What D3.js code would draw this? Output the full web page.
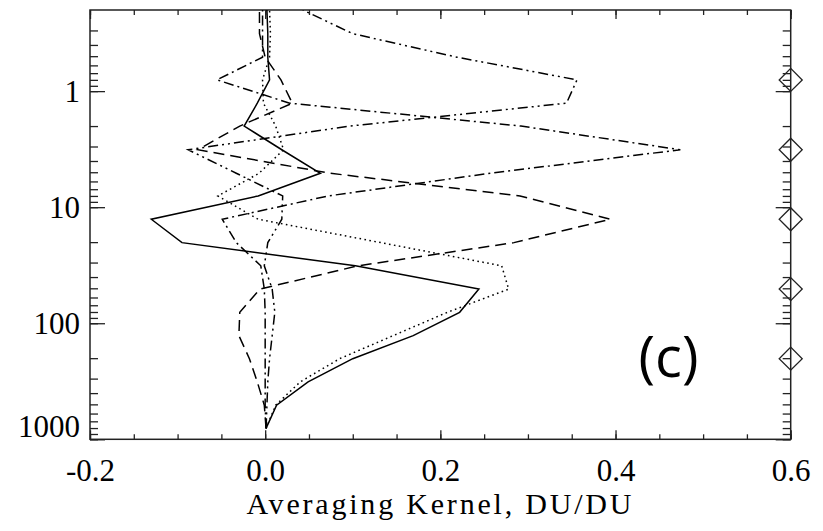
<!DOCTYPE html>
<html>
<head>
<meta charset="utf-8">
<script src="https://cdn.jsdelivr.net/npm/d3@7"></script>
<style>
  body { margin: 0; background: #fff; }
  #graph { width: 823px; height: 531px; }
</style>
</head>
<body>
<div id="graph"></div>
<script>
// Pressure levels (hPa), bottom of the profile to the top
const levels = [805, 508, 320, 202, 128, 80.5, 50.8, 32.0, 20.2, 12.7, 8.0, 5.1, 3.2, 2.0, 1.27, 0.80, 0.51, 0.32, 0.20]

// Averaging kernel rows, one value per level (DU/DU)
const kernelSolid = [0.001, 0.013, 0.049, 0.100, 0.169, 0.222, 0.244, 0.103, -0.095, -0.130, -0.008, 0.063, 0.019, -0.024, -0.009, 0.005, 0.003, 0.003, 0.002]
const kernelDotted = [0.001, 0.012, 0.040, 0.085, 0.146, 0.208, 0.278, 0.270, 0.132, -0.008, -0.054, -0.007, 0.021, 0.012, -0.002, -0.003, 0.005, 0.006, 0.005]
const kernelDashed = [0.001, -0.001, -0.009, -0.018, -0.030, -0.029, -0.006, 0.106, 0.284, 0.394, 0.291, 0.074, -0.077, -0.029, 0.031, 0.018, 0.000, -0.0065, -0.0065]
const kernelDashDot = [0.001, 0.000, 0.000, 0.000, 0.000, 0.000, -0.001, -0.005, -0.033, -0.049, 0.072, 0.257, 0.474, 0.292, 0.028, -0.055, -0.003, -0.003, -0.003]
const kernelDashDotDot = [0.001, 0.002, 0.003, 0.005, 0.008, 0.011, 0.008, -0.001, 0.003, 0.019, 0.020, -0.033, -0.088, 0.097, 0.344, 0.356, 0.219, 0.100, 0.043]

// Diamond markers on the right axis
const markerPressures = [0.80, 3.2, 12.7, 50.8, 202]

// Tick labels
const xTickValues = [-0.2, 0.0, 0.2, 0.4, 0.6]
const xTickLabels = ['-0.2', '0.0', '0.2', '0.4', '0.6']
const yTickValues = [1, 10, 100, 1000]
const yTickLabels = ['1', '10', '100', '1000']
const xTitle = 'Averaging Kernel, DU/DU'
const panelLabel = '(c)'

const total_width = 823
const total_height = 531
const margins = { top: 10, left: 90, right: 32.3, bottom: 91.7 }
const width = total_width - margins.left - margins.right
const height = total_height - margins.top - margins.bottom

const svg = d3.select('#graph').append('svg')
  .attr('width', total_width)
  .attr('height', total_height)
  .style('background-color', '#fff')

const g = svg.append('g')
  .attr('transform', `translate(${margins.left}, ${margins.top})`)

const x = d3.scaleLinear().domain([-0.2, 0.6]).range([0, width])
const y = d3.scaleLog().domain([0.2, 1000]).range([0, height])

g.append('clipPath').attr('id', 'plot-clip')
  .append('rect').attr('width', width).attr('height', height)

// Axes: major and minor ticks, all pointing into the plot
const xMinor = d3.range(-0.2, 0.6001, 0.05).map(v => +v.toFixed(2))
const yMinor = y.ticks().filter(v => v > 0.2)

function styleAxis(sel) {
  sel.select('.domain').remove()
  sel.selectAll('line').attr('stroke', '#222').attr('stroke-width', 1.3)
  sel.selectAll('text')
    .attr('fill', '#000')
    .style('font-family', '"Liberation Serif", "Times New Roman", serif')
    .style('font-size', '31px')
}

// bottom
g.append('g').attr('transform', `translate(0, ${height})`)
  .call(d3.axisBottom(x).tickValues(xMinor).tickSize(-5).tickFormat(''))
  .call(styleAxis)
g.append('g').attr('transform', `translate(0, ${height})`)
  .call(d3.axisBottom(x).tickValues(xTickValues).tickSizeInner(-9).tickSizeOuter(0).tickPadding(0)
    .tickFormat((d, i) => xTickLabels[i]))
  .call(styleAxis)
  .selectAll('text').attr('y', 41.7).attr('dy', 0)

// top
g.append('g')
  .call(d3.axisTop(x).tickValues(xMinor).tickSize(-5).tickFormat(''))
  .call(styleAxis)
g.append('g')
  .call(d3.axisTop(x).tickValues(xTickValues).tickSize(-9).tickFormat(''))
  .call(styleAxis)

// left
g.append('g')
  .call(d3.axisLeft(y).tickValues(yMinor).tickSize(-8).tickFormat(''))
  .call(styleAxis)
g.append('g')
  .call(d3.axisLeft(y).tickValues(yTickValues).tickSizeInner(-15).tickSizeOuter(0).tickPadding(0)
    .tickFormat((d, i) => yTickLabels[i]))
  .call(styleAxis)
  .selectAll('text')
  .attr('x', -10)
  .attr('dy', d => d === 1000 ? '-0.08em' : '0.33em')

// right
g.append('g').attr('transform', `translate(${width}, 0)`)
  .call(d3.axisRight(y).tickValues(yMinor).tickSize(-8).tickFormat(''))
  .call(styleAxis)
g.append('g').attr('transform', `translate(${width}, 0)`)
  .call(d3.axisRight(y).tickValues(yTickValues).tickSize(-15).tickFormat(''))
  .call(styleAxis)

// frame
g.append('rect')
  .attr('width', width)
  .attr('height', height)
  .attr('fill', 'none')
  .attr('stroke', '#222')
  .attr('stroke-width', 1.5)

// kernel lines
const series = [
  { values: kernelSolid, dash: null },
  { values: kernelDotted, dash: '1.6,3.4' },
  { values: kernelDashed, dash: '11,6' },
  { values: kernelDashDot, dash: '10,4,2,4' },
  { values: kernelDashDotDot, dash: '10,4,2,4,2,4' }
]

const lineGen = d3.line()
  .x(d => x(d.value))
  .y(d => y(d.p))

g.append('g').attr('clip-path', 'url(#plot-clip)')
  .selectAll('path')
  .data(series)
  .join('path')
  .attr('d', s => lineGen(levels.map((p, i) => ({ p: p, value: s.values[i] }))))
  .attr('fill', 'none')
  .attr('stroke', '#000')
  .attr('stroke-width', 1.5)
  .attr('stroke-linejoin', 'miter')
  .attr('stroke-dasharray', s => s.dash)

// diamonds on the right axis
g.selectAll('.marker')
  .data(markerPressures)
  .join('path')
  .attr('class', 'marker')
  .attr('d', d3.symbol(d3.symbolSquare, 265))
  .attr('transform', d => `translate(${x(0.6)}, ${y(d)}) rotate(45)`)
  .attr('fill', 'none')
  .attr('stroke', '#222')
  .attr('stroke-width', 1.3)

// panel label
g.append('text')
  .attr('x', x(0.4605))
  .attr('y', y(290))
  .attr('text-anchor', 'middle')
  .style('font-family', '"Open Sans", "Liberation Sans", sans-serif')
  .style('font-size', '56px')
  .attr('fill', '#000')
  .text(panelLabel)

// x title
svg.append('text')
  .attr('x', margins.left + width / 2)
  .attr('y', 514.3)
  .attr('text-anchor', 'middle')
  .style('font-family', '"Liberation Serif", "Times New Roman", serif')
  .style('font-size', '30px')
  .style('letter-spacing', '2.8px')
  .attr('fill', '#000')
  .text(xTitle)
</script>
</body>
</html>
